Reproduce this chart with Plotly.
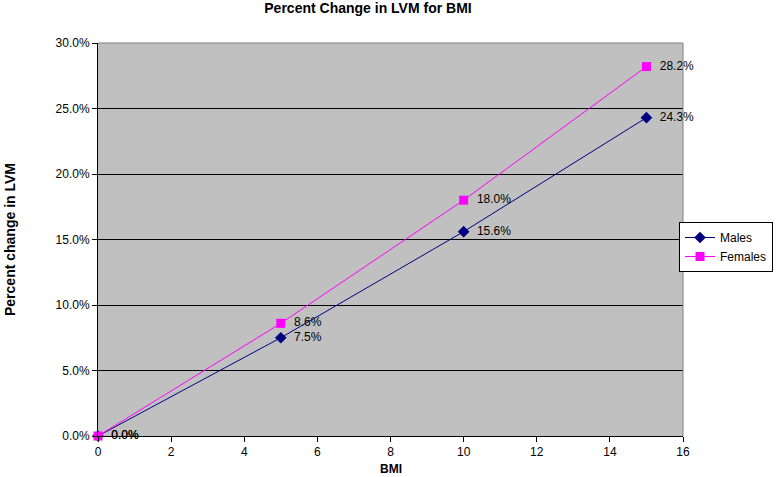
import plotly.graph_objects as go

bmi = [0, 5, 10, 15]
males = [0.0, 0.075, 0.156, 0.243]
females = [0.0, 0.086, 0.180, 0.282]
x_ticks = [0, 2, 4, 6, 8, 10, 12, 14, 16]
y_ticks = [0, 0.05, 0.10, 0.15, 0.20, 0.25, 0.30]

FONT = "Liberation Sans, Arial, sans-serif"

fig = go.Figure()
fig.add_trace(go.Scatter(
    x=bmi, y=males, name="Males", mode="lines+markers+text",
    line=dict(color="#000080", width=1),
    marker=dict(symbol="diamond", size=9, color="#000080"),
    text=[f"  {v:.1%}" for v in males], textposition="middle right",
    textfont=dict(family=FONT, size=12, color="black"), cliponaxis=False,
))
fig.add_trace(go.Scatter(
    x=bmi, y=females, name="Females", mode="lines+markers+text",
    line=dict(color="#FF00FF", width=1),
    marker=dict(symbol="square", size=9, color="#FF00FF"),
    text=[f"  {v:.1%}" for v in females], textposition="middle right",
    textfont=dict(family=FONT, size=12, color="black"), cliponaxis=False,
))

fig.update_layout(
    width=778, height=477,
    margin=dict(l=98, r=95, t=43, b=41, autoexpand=False),
    paper_bgcolor="white", plot_bgcolor="#C0C0C0",
    font=dict(family=FONT, size=12, color="black"),
    title=dict(text="<b>Percent Change in LVM for BMI</b>", x=368/778, xanchor="center",
               xref="container", y=1 - 8/477, yanchor="middle", yref="container",
               font=dict(size=14)),
    showlegend=True,
    legend=dict(x=(679-98)/585, y=(436-222)/393, xanchor="left", yanchor="top",
                bgcolor="white", bordercolor="black", borderwidth=1,
                font=dict(size=12), tracegroupgap=0, itemwidth=30),
    xaxis=dict(range=[0, 16], tickvals=x_ticks, showgrid=False, zeroline=False,
               showline=True, linecolor="black", linewidth=1, automargin=False,
               ticks="outside", ticklen=5, tickcolor="black"),
    yaxis=dict(range=[0, 0.30], tickvals=y_ticks, tickformat=".1%",
               showgrid=True, gridcolor="black", gridwidth=1, zeroline=False,
               showline=True, linecolor="black", linewidth=1, automargin=False,
               ticks="outside", ticklen=5, tickcolor="black"),
    annotations=[
        dict(text="<b>BMI</b>", xref="paper", yref="paper", x=0.5, y=(436-469)/393,
             xanchor="center", yanchor="middle", showarrow=False, font=dict(size=12)),
        dict(text="<b>Percent change in LVM</b>", xref="paper", yref="paper",
             x=(10-98)/585, y=(436-240)/393, xanchor="center", yanchor="middle",
             textangle=-90, showarrow=False, font=dict(size=14)),
    ],
)
fig.add_shape(type="line", xref="paper", yref="paper", x0=0, x1=1, y0=1, y1=1,
              line=dict(color="#808080", width=1), layer="above")
fig.add_shape(type="line", xref="paper", yref="paper", x0=1, x1=1, y0=0, y1=1,
              line=dict(color="#808080", width=1), layer="above")

fig.write_html("out.html", config={"displayModeBar": False},
               post_script="document.body.style.margin='0';")
